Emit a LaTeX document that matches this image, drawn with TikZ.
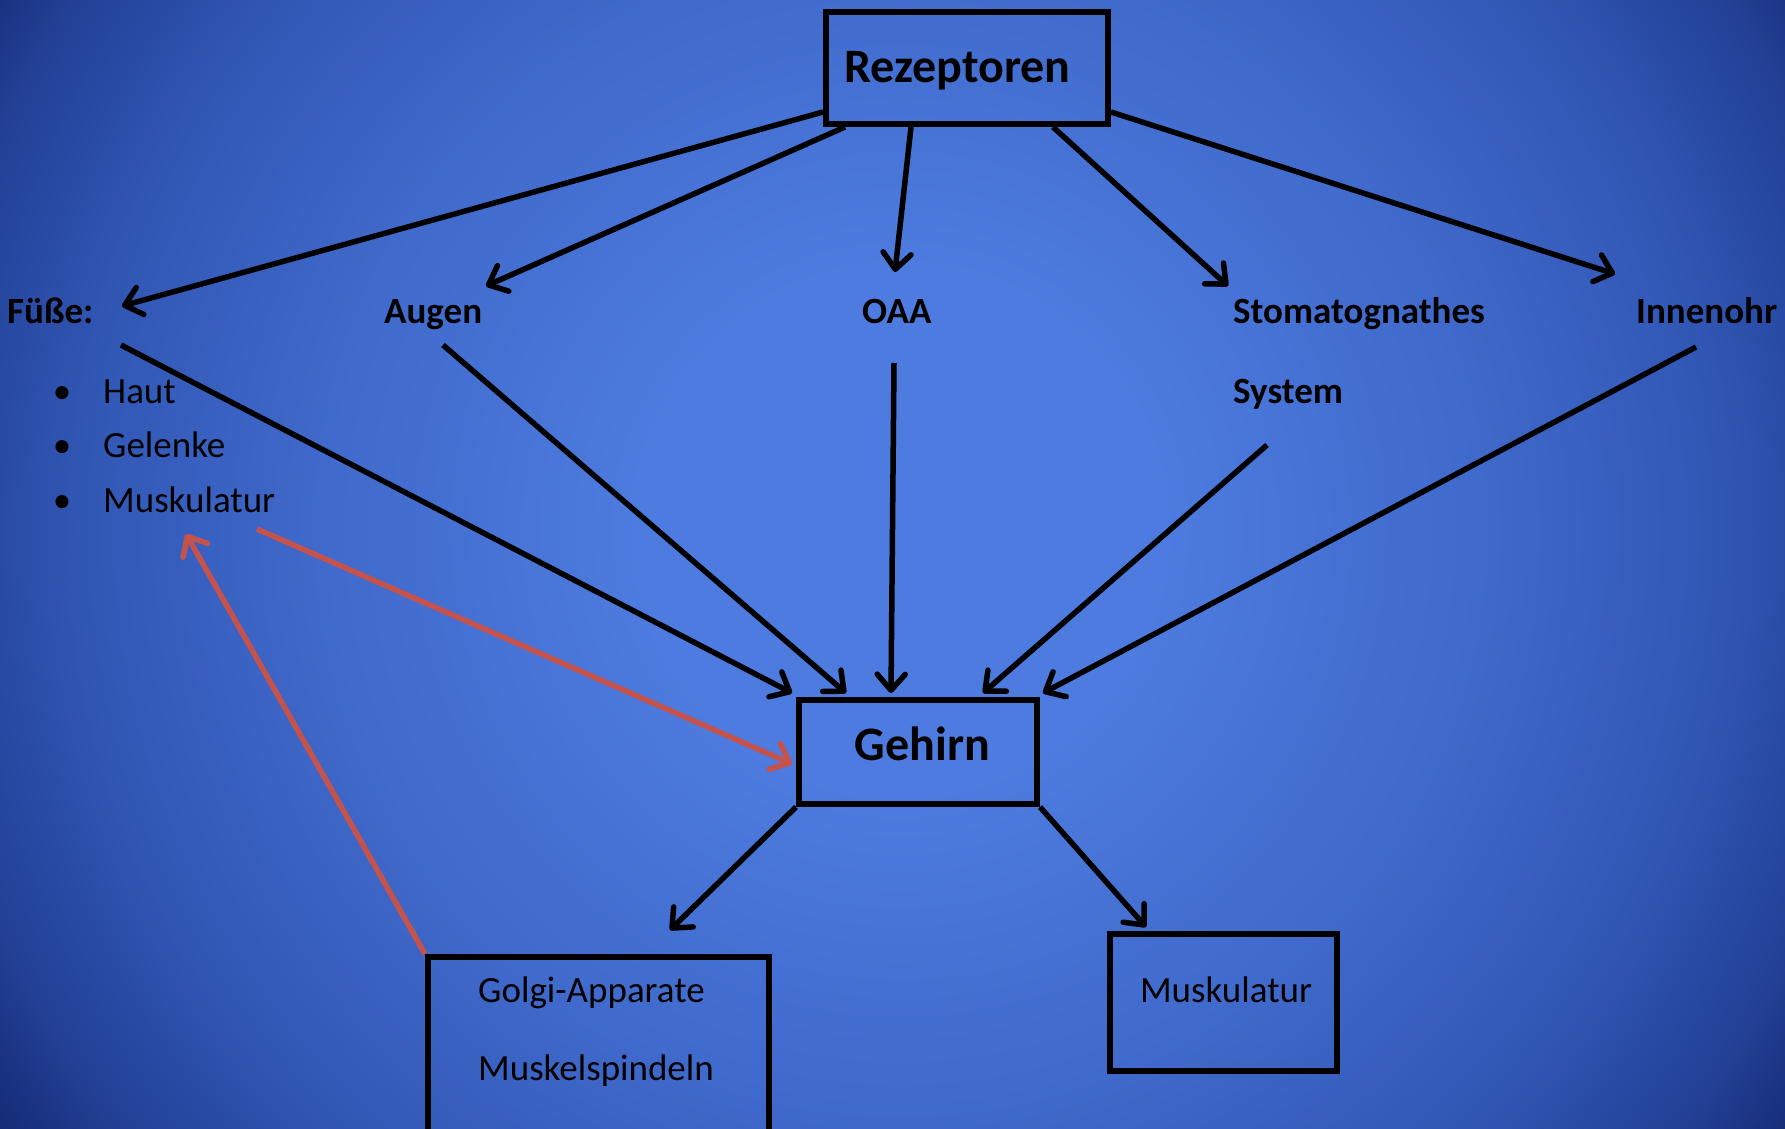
\documentclass[tikz,border=0pt]{standalone}
\usepackage{fontspec}
\setmainfont{Carlito}
\usetikzlibrary{arrows.meta,calc}
\definecolor{bgc}{RGB}{77,123,223}
\definecolor{bgm}{RGB}{64,106,204}
\definecolor{bgn}{RGB}{50,88,182}
\definecolor{bgo}{RGB}{34,64,150}
\definecolor{bge}{RGB}{20,42,114}
\definecolor{redarrow}{RGB}{198,82,76}
\pgfdeclareradialshading{bgsh}{\pgfpoint{0bp}{0bp}}{color(0bp)=(bgc); color(6bp)=(bgc); color(13bp)=(bgm); color(18.5bp)=(bgn); color(22.5bp)=(bgo); color(25bp)=(bge); color(50bp)=(bge)}
\newcommand{\bigb}{\fontsize{48pt}{56pt}\selectfont\bfseries}
\newcommand{\labb}{\fontsize{37pt}{44pt}\selectfont\bfseries}
\newcommand{\labr}{\fontsize{37pt}{44pt}\selectfont}
\begin{document}
\begin{tikzpicture}[x=1pt,y=-1pt,
  box/.style={draw=black, line width=6pt, inner sep=0pt, fill=none},
  lab/.style={font=\labb, inner sep=0pt, anchor=base west, text=black},
  item/.style={font=\labr, inner sep=0pt, anchor=base west, text=black},
  bul/.style={font=\labr, inner sep=0pt, anchor=base, text=black},
  conn/.style={draw=black, line width=5.5pt, -{Straight Barb[length=16pt,width=28pt,line width=5.5pt,round]}},
  redconn/.style={draw=redarrow, line width=5.5pt, -{Straight Barb[length=16pt,width=28pt,line width=5.5pt,round]}}]
\useasboundingbox (0,0) rectangle (1785,1128);
\clip (0,0) rectangle (1785,1128);
\shade[shading=bgsh] (900,530) circle (1090);

% boxes
\node[box, minimum width=282pt, minimum height=112pt, text height=28pt, text depth=0pt, font=\bigb] (rez) at (967,68) {\hspace*{-19pt}Rezeptoren};
\node[box, minimum width=238pt, minimum height=104pt, text height=16pt, text depth=0pt, font=\bigb] (geh) at (918,752) {\hspace*{9pt}Gehirn};
\node[box, minimum width=341pt, minimum height=200pt, anchor=north west] (golgi) at (425,954) {};
\node[box, minimum width=227pt, minimum height=137pt, text height=0pt, text depth=0pt, font=\labr] (musk) at (1223.5,1002.5) {\hspace*{5pt}Muskulatur};

% texts
\node[lab] (fusse) at (7,323) {Füße:};
\node[lab] (augen) at (384,323) {Augen};
\node[lab] (oaa) at (862,323) {OAA};
\node[lab] (stoma) at (1233,323) {Stomatognathes};
\node[lab] (system) at (1233,403) {System};
\node[lab] (innen) at (1636,323) {Innenohr};
\node[bul] (b1) at (62,403) {•};
\node[bul] (b2) at (62,457) {•};
\node[bul] (b3) at (62,512) {•};
\node[item] (haut) at (103,403) {Haut};
\node[item] (gel) at (103,457) {Gelenke};
\node[item] (muskt) at (103,512) {Muskulatur};
\node[item] (golgitxt) at (478,1002) {Golgi-Apparate};
\node[item] (spindtxt) at (478,1080) {Muskelspindeln};

% connector ends
\coordinate (fusseIn) at (122,306);
\coordinate (augenIn) at (486,286);
\coordinate (oaaIn) at (895,272);
\coordinate (stomaIn) at (1228,286);
\coordinate (innenIn) at (1615,274);
\coordinate (fusseOut) at (121,345);
\coordinate (augenOut) at (443,345);
\coordinate (oaaOut) at (894,363);
\coordinate (systemOut) at (1267,445);
\coordinate (innenOut) at (1696,347);
\coordinate (muskOut) at (257,529);
\coordinate (muskIn) at (186,534);

% from Rezeptoren
\draw[conn] ($(rez.south west)+(0,-15)$) -- (fusseIn);
\draw[conn] ($(rez.south west)+(22,0)$) -- (augenIn);
\draw[conn] ($(rez.south)+(-56,0)$) -- (oaaIn);
\draw[conn] ($(rez.south)+(86,0)$) -- (stomaIn);
\draw[conn] ($(rez.south east)+(0,-15)$) -- (innenIn);

% to Gehirn
\draw[conn] (fusseOut) -- ($(geh.north west)+(-4,-4)$);
\draw[conn] (augenOut) -- ($(geh.north west)+(50,-4)$);
\draw[conn] (oaaOut) -- ($(geh.north west)+(95,-4)$);
\draw[conn] (systemOut) -- ($(geh.north west)+(187,-4)$);
\draw[conn] (innenOut) -- ($(geh.north east)+(3,-4)$);

% from Gehirn
\draw[conn] (geh.south west) -- ($(golgi.north west)+(245,-24)$);
\draw[conn] (geh.south east) -- ($(musk.north west)+(39,-4)$);

% red feedback
\draw[redconn] (muskOut) -- ($(geh.west)+(-4,12)$);
\draw[redconn] (golgi.north west) -- (muskIn);
\end{tikzpicture}
\end{document}
